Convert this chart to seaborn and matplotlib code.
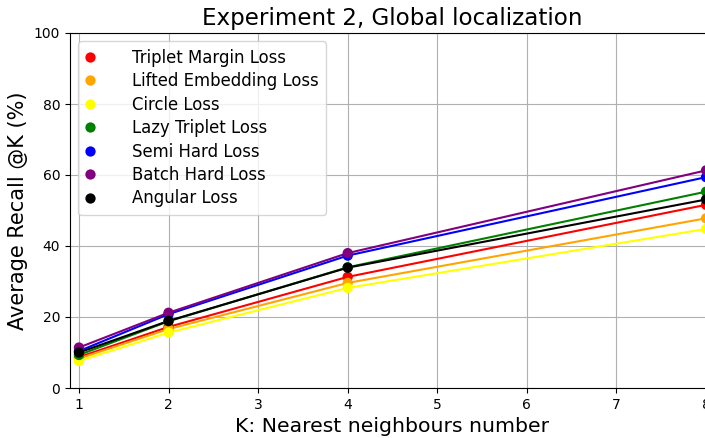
import matplotlib
matplotlib.use("Agg")
import matplotlib.pyplot as plt
import seaborn as sns
import pandas as pd

k_values = [1, 2, 4, 8]
losses = ["Triplet Margin Loss", "Lifted Embedding Loss", "Circle Loss",
          "Lazy Triplet Loss", "Semi Hard Loss", "Batch Hard Loss", "Angular Loss"]
colors = ["red", "orange", "yellow", "green", "blue", "purple", "black"]

triplet_margin = [8.7, 17.2, 31.3, 51.6]
lifted_embedding = [8.3, 16.6, 29.6, 47.8]
circle = [7.6, 15.6, 28.2, 44.8]
lazy_triplet = [9.3, 18.8, 34.0, 55.3]
semi_hard = [10.4, 20.8, 37.3, 59.4]
batch_hard = [11.4, 21.2, 38.0, 61.3]
angular = [10.0, 18.9, 33.9, 53.1]

series = [triplet_margin, lifted_embedding, circle, lazy_triplet, semi_hard, batch_hard, angular]

rows = []
for name, vals in zip(losses, series):
    for k, v in zip(k_values, vals):
        rows.append({"K": k, "Recall": v, "Loss": name})
df = pd.DataFrame(rows)

plt.rcParams["font.family"] = ["DejaVu Sans"]
fig = plt.figure(figsize=(7.05, 4.38), dpi=100)
ax = fig.add_axes([70 / 705, 1 - 388 / 438, (715 - 70) / 705, (388 - 33) / 438])

palette = dict(zip(losses, colors))
sns.lineplot(data=df, x="K", y="Recall", hue="Loss", palette=palette, ax=ax,
             legend=False, linewidth=1.5, hue_order=losses)
sns.scatterplot(data=df, x="K", y="Recall", hue="Loss", palette=palette, ax=ax,
                s=55, edgecolor="none", hue_order=losses, zorder=3)

ax.set_xlim(0.9, 8.1)
ax.set_ylim(0, 100)
ax.set_xticks(range(1, 9))
ax.set_yticks(range(0, 101, 20))
ax.grid(True, color="#b0b0b0", linewidth=0.8)
ax.set_axisbelow(True)
ax.tick_params(labelsize=10)
ax.set_xlabel("K: Nearest neighbours number", fontsize=14.7)
ax.set_ylabel("Average Recall @K (%)", fontsize=15)
ax.set_title("Experiment 2, Global localization", fontsize=16.6)

leg = ax.legend(loc="upper left", fontsize=11.9, markerscale=1.0,
                handlelength=0.5, handletextpad=2.3,
                borderpad=0.45, labelspacing=0.33)
leg.set_title(None)

fig.savefig("out.png", dpi=100)
